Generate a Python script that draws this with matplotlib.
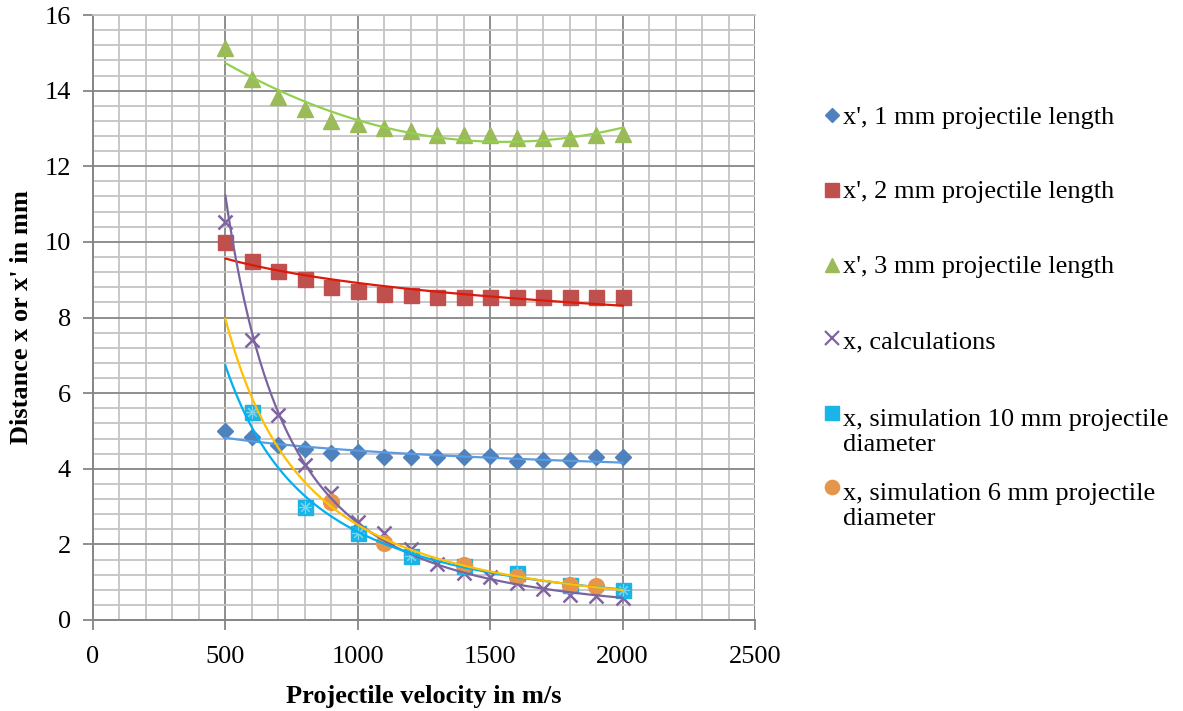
import numpy as np
import matplotlib
matplotlib.use("Agg")
import matplotlib.pyplot as plt
from matplotlib.lines import Line2D
from matplotlib.ticker import MultipleLocator

plt.rcParams['font.family'] = ['Liberation Serif', 'DejaVu Serif']

# ---------------- data ----------------
velocity = [500, 600, 700, 800, 900, 1000, 1100, 1200, 1300, 1400,
            1500, 1600, 1700, 1800, 1900, 2000]
x_prime_1mm = [5.0, 4.83, 4.62, 4.53, 4.42, 4.43, 4.31, 4.31, 4.31, 4.31,
               4.33, 4.2, 4.22, 4.22, 4.31, 4.31]
x_prime_2mm = [10.0, 9.5, 9.23, 9.02, 8.8, 8.7, 8.62, 8.6, 8.53, 8.53,
               8.53, 8.53, 8.53, 8.53, 8.53, 8.53]
x_prime_3mm = [15.13, 14.31, 13.83, 13.52, 13.2, 13.12, 13.0, 12.94, 12.83, 12.83,
               12.83, 12.75, 12.75, 12.75, 12.83, 12.85]
x_calc = [10.53, 7.4, 5.42, 4.1, 3.35, 2.6, 2.3, 1.87, 1.48, 1.25,
          1.13, 0.97, 0.82, 0.66, 0.63, 0.57]
velocity_sim10 = [600, 800, 1000, 1200, 1400, 1600, 1800, 2000]
x_sim10 = [5.5, 3.0, 2.3, 1.68, 1.42, 1.24, 0.93, 0.8]
velocity_sim6 = [900, 1100, 1400, 1600, 1800, 1900]
x_sim6 = [3.12, 2.03, 1.45, 1.15, 0.92, 0.9]

labels = ["x', 1 mm projectile length",
          "x', 2 mm projectile length",
          "x', 3 mm projectile length",
          "x, calculations",
          "x, simulation 10 mm projectile\ndiameter",
          "x, simulation 6 mm projectile\ndiameter"]

x_ticks = [0, 500, 1000, 1500, 2000, 2500]
y_ticks = [0, 2, 4, 6, 8, 10, 12, 14, 16]

# ---------------- styles ----------------
c_blue, c_blue_line = '#4F81BD', '#5B9BE0'
c_red, c_red_line = '#C0504D', '#DD1A0A'
c_green, c_green_line = '#9BBB59', '#92D050'
c_purple, c_purple_line = '#8064A2', '#7A64A0'
c_cyan, c_cyan_line = '#1BB4E6', '#00B0F0'
c_orange, c_orange_line = '#E6964C', '#FFC000'

FS = 19

fig = plt.figure(figsize=(11.83, 7.11), dpi=100)
ax = fig.add_axes([93 / 1183, 91 / 711, 662 / 1183, 605 / 711])

ax.set_xlim(0, 2500)
ax.set_ylim(0, 16)
ax.set_xticks(x_ticks)
ax.set_yticks(y_ticks)
ax.xaxis.set_minor_locator(MultipleLocator(100))
ax.yaxis.set_minor_locator(MultipleLocator(0.4))
ax.grid(which='minor', color='#C4C4C4', linewidth=1.3, zorder=0)
ax.grid(which='major', color='#8E8E8E', linewidth=1.4, zorder=0)
ax.set_axisbelow(True)
ax.tick_params(which='minor', length=0)
ax.tick_params(which='major', length=7, width=1.3, color='#868686',
               labelsize=FS, pad=9)
ax.tick_params(axis='x', which='major', pad=12)
for s in ['left', 'bottom']:
    ax.spines[s].set_color('#868686')
    ax.spines[s].set_linewidth(1.4)
ax.spines['top'].set_color('#C4C4C4')
ax.spines['top'].set_linewidth(1.3)
ax.spines['right'].set_visible(False)

ax.set_xlabel('Projectile velocity in m/s', fontsize=FS, fontweight='bold', labelpad=12)
ax.set_ylabel("Distance x or x' in mm", fontsize=FS, fontweight='bold', labelpad=8)

v = np.array(velocity, dtype=float)
vfit = np.linspace(500, 2000, 300)


def power_fit(xs, ys):
    b, lna = np.polyfit(np.log(np.asarray(xs, float)), np.log(np.asarray(ys, float)), 1)
    return np.exp(lna) * vfit ** b


def poly2_fit(xs, ys):
    p = np.polyfit(np.asarray(xs, float), np.asarray(ys, float), 2)
    return np.polyval(p, vfit)


MS = 10.8
# markers
ax.plot(v, x_prime_1mm, ls='none', marker='D', ms=MS * 0.72, color=c_blue, zorder=3)
ax.plot(v, x_prime_2mm, ls='none', marker='s', ms=MS, color=c_red, zorder=3)
ax.plot(v, x_prime_3mm, ls='none', marker='^', ms=MS * 1.08, color=c_green, zorder=3)
ax.plot(v, x_calc, ls='none', marker='x', ms=MS * 0.95, mew=1.8, color=c_purple, zorder=3)
ax.plot(velocity_sim10, x_sim10, ls='none', marker='s', ms=MS, color=c_cyan, zorder=3)
ax.plot(velocity_sim10, x_sim10, ls='none', marker=(8, 2, 0), ms=MS * 0.8, mew=0.8,
        color='#7CD3EE', zorder=3)
ax.plot(velocity_sim6, x_sim6, ls='none', marker='o', ms=MS * 1.05, color=c_orange, zorder=4)

# trendlines
lw = 1.6
ax.plot(vfit, power_fit(v, x_prime_1mm), color=c_blue_line, lw=lw, zorder=5)
ax.plot(vfit, power_fit(v, x_prime_2mm), color=c_red_line, lw=lw, zorder=5)
ax.plot(vfit, poly2_fit(v, x_prime_3mm), color=c_green_line, lw=lw, zorder=5)
ax.plot(vfit, power_fit(v, x_calc), color=c_purple_line, lw=lw, zorder=5)
ax.plot(vfit, power_fit(velocity_sim10, x_sim10), color=c_cyan_line, lw=lw, zorder=5)
ax.plot(vfit, power_fit(velocity_sim6, x_sim6), color=c_orange_line, lw=lw, zorder=5)

# legend (manual, Excel-like layout)
W, H = 1183, 711
leg_marker_x = 832
leg_text_x = 843
marker_y = [115, 190, 265, 338, 413, 487]
text_y = [118, 192, 267, 342, 432.5, 506.5]
leg_styles = [
    dict(marker='D', ms=MS * 0.66, color=c_blue),
    dict(marker='s', ms=MS * 0.95, color=c_red),
    dict(marker='^', ms=MS * 0.95, color=c_green),
    dict(marker='x', ms=MS * 0.9, mew=1.6, color=c_purple),
    dict(marker='s', ms=MS * 0.95, color=c_cyan),
    dict(marker='o', ms=MS * 0.95, color=c_orange),
]
for lab, my, ty, st in zip(labels, marker_y, text_y, leg_styles):
    fig.add_artist(Line2D([leg_marker_x / W], [1 - my / H], ls='none',
                          transform=fig.transFigure, **st))
    fig.text(leg_text_x / W, 1 - ty / H, lab, fontsize=FS, ha='left', va='center',
             linespacing=1.22)

fig.savefig('out.png', dpi=100)
